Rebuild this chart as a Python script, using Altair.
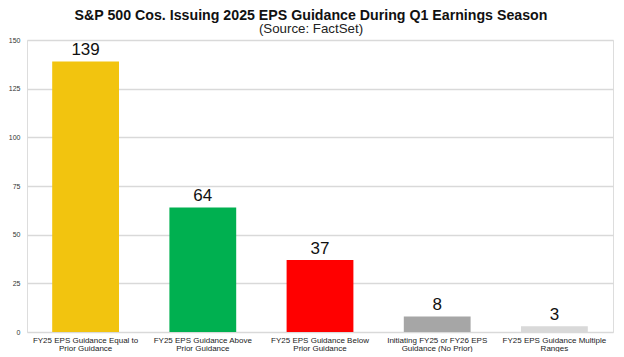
import altair as alt
import pandas as pd

categories = [
    "FY25 EPS Guidance Equal to|Prior Guidance",
    "FY25 EPS Guidance Above|Prior Guidance",
    "FY25 EPS Guidance Below|Prior Guidance",
    "Initiating FY25 or FY26 EPS|Guidance (No Prior)",
    "FY25 EPS Guidance Multiple|Ranges",
]
values = [139, 64, 37, 8, 3]
colors = ["#F2C40F", "#00B050", "#FF0000", "#A6A6A6", "#D9D9D9"]
y_ticks = [0, 25, 50, 75, 100, 125, 150]

df = pd.DataFrame({"cat": categories, "val": values, "color": colors})

base = alt.Chart(df).encode(
    x=alt.X("cat:N", sort=categories, title=None,
            scale=alt.Scale(paddingInner=0.43, paddingOuter=0.215),
            axis=alt.Axis(labelExpr="split(datum.label, '|')", labelAngle=0,
                          labelFontSize=8, labelColor="#222", labelFont="Liberation Sans",
                          labelLineHeight=8.5, ticks=False, domain=False, labelPadding=4,
                          labelLimit=200)),
    y=alt.Y("val:Q", title=None,
            scale=alt.Scale(domain=[0, 150], nice=False),
            axis=alt.Axis(values=y_ticks, ticks=False, domain=False,
                          labelFontSize=7, labelColor="#333", labelFont="Liberation Sans",
                          labelPadding=7, gridColor="#D9D9D9", gridWidth=1.5)),
)

bars = base.mark_bar().encode(
    color=alt.Color("color:N", scale=None),
)

labels = base.mark_text(baseline="alphabetic", dy=-6, fontSize=17,
                        font="Liberation Sans", color="#111").encode(
    text="val:Q")

chart = (bars + labels).properties(
    width=586, height=292,
    title=alt.TitleParams(
        "S&P 500 Cos. Issuing 2025 EPS Guidance During Q1 Earnings Season",
        subtitle="(Source: FactSet)",
        font="Liberation Sans", fontSize=14.2, fontWeight="bold", color="#111",
        subtitleFont="Liberation Sans", subtitleFontSize=13.3, subtitleColor="#222",
        anchor="middle", dx=-9, offset=1, subtitlePadding=-1,
    ),
    autosize=alt.AutoSizeParams(type="none"),
    padding={"left": 19, "top": 32, "right": 3, "bottom": 20},
).configure_view(stroke=None).configure(background="white")

chart.save("out.html", embed_options={"renderer": "svg", "actions": False})
